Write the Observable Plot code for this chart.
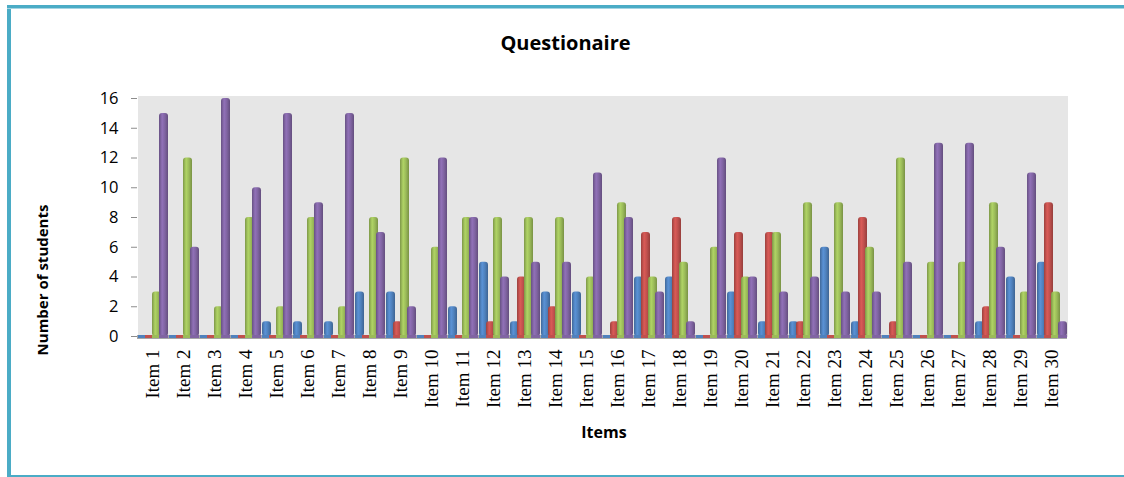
<!DOCTYPE html>
<html>
<head>
<meta charset="utf-8">
<script src="https://cdn.jsdelivr.net/npm/d3@7"></script>
<script src="https://cdn.jsdelivr.net/npm/@observablehq/plot@0.6"></script>
<style>
  body { margin: 0; background: #fff; }
  #wrap { position: relative; width: 1124px; height: 477px; overflow: hidden; font-family: "Open Sans", sans-serif; }
  #chart { position: absolute; left: 0; top: 0; }
  .bl { position: absolute; left: 7px; top: 5px; width: 4px; height: 472px; background: #4bacc6; }
  .bt { position: absolute; left: 7px; top: 5px; width: 1117px; height: 3px; background: #4bacc6; border-bottom: 1px solid #a5d5e3; }
  .bb { position: absolute; left: 7px; top: 475px; width: 1117px; height: 2px; background: #4bacc6; }
  .title { position: absolute; left: 7px; width: 1117px; top: 29px; line-height: 28px; text-align: center; font-weight: bold; font-size: 20px; color: #000; }
  .ylab { position: absolute; left: 42px; top: 280px; transform: translate(-50%, -50%) rotate(-90deg); white-space: nowrap; font-weight: bold; font-size: 15px; color: #000; }
  .xlab { position: absolute; left: 604px; top: 432px; transform: translate(-50%, -50%); white-space: nowrap; font-weight: bold; font-size: 16px; color: #000; }
</style>
</head>
<body>
<div id="wrap">
  <div id="chart"></div>
  <div class="bl"></div>
  <div class="bt"></div>
  <div class="bb"></div>
  <div class="title">Questionaire</div>
  <div class="ylab">Number of students</div>
  <div class="xlab">Items</div>
</div>
<script>
const items = ["Item 1","Item 2","Item 3","Item 4","Item 5","Item 6","Item 7","Item 8","Item 9","Item 10",
  "Item 11","Item 12","Item 13","Item 14","Item 15","Item 16","Item 17","Item 18","Item 19","Item 20",
  "Item 21","Item 22","Item 23","Item 24","Item 25","Item 26","Item 27","Item 28","Item 29","Item 30"];
const series = ["Series1", "Series2", "Series3", "Series4"];
const blue   = [0,0,0,0,1,1,1,3,3,0,2,5,1,3,3,0,4,4,0,3,1,1,6,1,0,0,0,1,4,5];
const red    = [0,0,0,0,0,0,0,0,1,0,0,1,4,2,0,1,7,8,0,7,7,1,0,8,1,0,0,2,0,9];
const green  = [3,12,2,8,2,8,2,8,12,6,8,8,8,8,4,9,4,5,6,4,7,9,9,6,12,5,5,9,3,3];
const purple = [15,6,16,10,15,9,15,7,2,12,8,4,5,5,11,8,3,1,12,4,3,4,3,3,5,13,13,6,11,1];
const yTicks = [0,2,4,6,8,10,12,14,16];

const baseColors = ["#4f81bd", "#c0504d", "#9bbb59", "#8064a2"];
const gradIds = ["gBlue", "gRed", "gGreen", "gPurple"];
const values = [blue, red, green, purple];

const data = items.flatMap((item, i) => series.map((s, j) => ({
  item, series: s, value: values[j][i],
  fill: `url(#${gradIds[j]})`, base: baseColors[j]
})));

const plot = Plot.plot({
  width: 1124,
  height: 477,
  marginLeft: 136,
  marginRight: 56,
  marginTop: 98,
  marginBottom: 141,
  style: { background: "transparent", fontFamily: "Open Sans, sans-serif" },
  fx: { domain: items, padding: 0, label: null },
  x: { domain: series, axis: null, paddingInner: 0, paddingOuter: 0.21 },
  y: { domain: [0, 16], label: null },
  color: { type: "identity" },
  marks: [
    Plot.frame({ fill: "#e6e6e6", stroke: null, shapeRendering: "crispEdges", insetTop: -3 }),
    Plot.ruleY([0], { stroke: "#a6a6a6", strokeWidth: 4, shapeRendering: "crispEdges" }),
    Plot.barY(data, { fx: "item", x: "series", y: "value", fill: "fill", rx: 3, insetLeft: -1, insetRight: -1 }),
    Plot.tickY(data, { fx: "item", x: "series", y: 0, stroke: "base", strokeWidth: 3, insetLeft: -1, insetRight: -1 }),
    Plot.axisY({ ticks: yTicks, tickSize: 6, tickPadding: 13, fontSize: 16.5, label: null, line: true, stroke: "#8c8c8c" }),
    Plot.axisFx({ anchor: "bottom", tickRotate: -90, tickSize: 0, tickPadding: 13, fontSize: 19, fontFamily: "Liberation Serif", label: null })
  ]
});

const svg = d3.select(plot);
const defs = svg.insert("defs", ":first-child");
baseColors.forEach((c, j) => {
  const col = d3.color(c);
  const g = defs.append("linearGradient").attr("id", gradIds[j]).attr("x1", "0").attr("x2", "1").attr("y1", "0").attr("y2", "0");
  g.append("stop").attr("offset", "0%").attr("stop-color", col.darker(0.6));
  g.append("stop").attr("offset", "35%").attr("stop-color", col.brighter(0.35));
  g.append("stop").attr("offset", "65%").attr("stop-color", c);
  g.append("stop").attr("offset", "100%").attr("stop-color", col.darker(0.7));
});
document.getElementById("chart").appendChild(plot);
</script>
</body>
</html>
